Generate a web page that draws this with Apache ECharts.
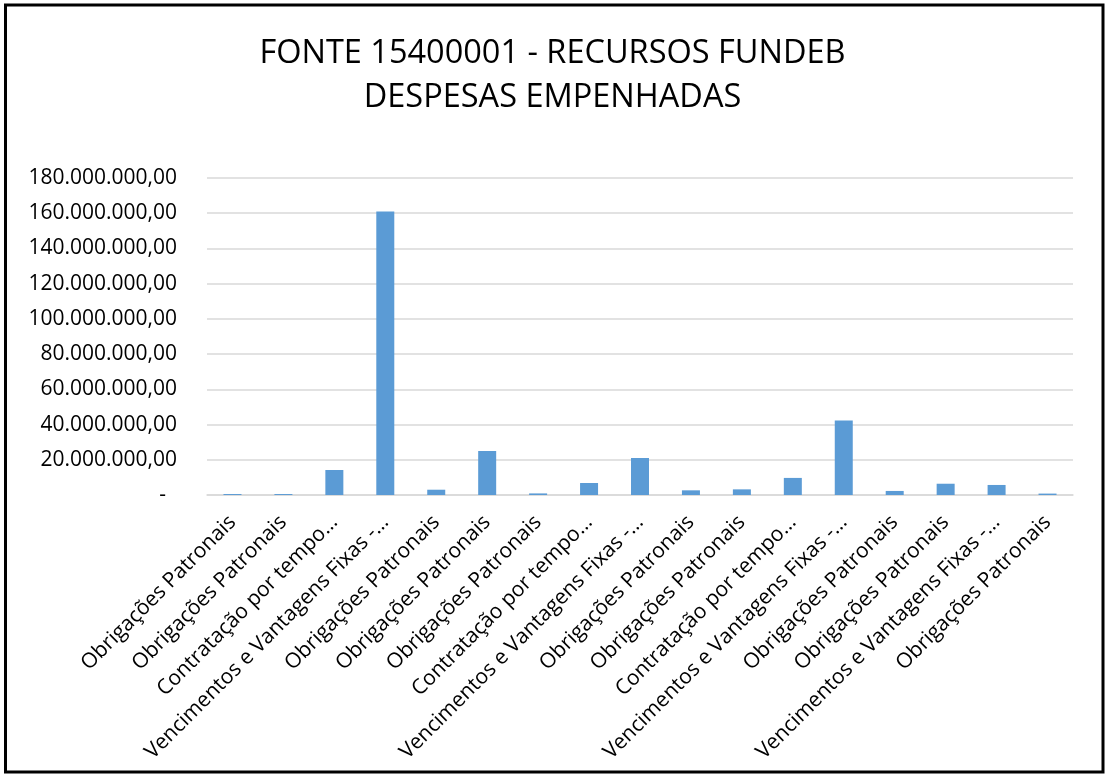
<!DOCTYPE html>
<html>
<head>
<meta charset="utf-8">
<script src="https://cdn.jsdelivr.net/npm/echarts@6/dist/echarts.min.js"></script>
<style>
  html, body { margin: 0; padding: 0; background: #fff; }
  #chart { width: 1105px; height: 775px; }
</style>
</head>
<body>
<div id="chart"></div>
<script>
// Despesas empenhadas por elemento (R$)
const categories = [
  'Obrigações Patronais',
  'Obrigações Patronais',
  'Contratação por tempo…',
  'Vencimentos e Vantagens Fixas -…',
  'Obrigações Patronais',
  'Obrigações Patronais',
  'Obrigações Patronais',
  'Contratação por tempo…',
  'Vencimentos e Vantagens Fixas -…',
  'Obrigações Patronais',
  'Obrigações Patronais',
  'Contratação por tempo…',
  'Vencimentos e Vantagens Fixas -…',
  'Obrigações Patronais',
  'Obrigações Patronais',
  'Vencimentos e Vantagens Fixas -…',
  'Obrigações Patronais'
];

const values = [
  550000, 550000, 14200000, 161000000, 3000000, 25000000,
  900000, 6800000, 21000000, 2650000, 3200000, 9700000,
  42300000, 2300000, 6400000, 5700000, 800000
];

const titleLines = ['FONTE 15400001 - RECURSOS FUNDEB', 'DESPESAS EMPENHADAS'];

// Formato contábil brasileiro: 160.000.000,00 ; zero como "-"
function formatBR(v) {
  if (v === 0) return '-  ';
  const parts = v.toFixed(2).split('.');
  const intPart = parts[0].replace(/\B(?=(\d{3})+(?!\d))/g, '.');
  return intPart + ',' + parts[1];
}

const FONT = '"Open Sans", "Liberation Sans", sans-serif';

const chart = echarts.init(document.getElementById('chart'), null, { renderer: 'canvas' });

chart.setOption({
  backgroundColor: '#ffffff',
  animation: false,
  title: {
    text: titleLines.join('\n'),
    left: 'center',
    top: 27,
    textStyle: {
      fontFamily: FONT,
      fontSize: 32.5,
      fontWeight: 'normal',
      color: '#000000',
      lineHeight: 44
    }
  },
  graphic: [{
    type: 'rect',
    shape: { x: 5.5, y: 5, width: 1097.5, height: 767 },
    style: { fill: 'none', stroke: '#000000', lineWidth: 3 },
    silent: true,
    z: 100
  }],
  grid: {
    left: 207,
    right: 32,
    top: 178,
    bottom: 280,
    containLabel: false,
    outerBoundsMode: 'none'
  },
  xAxis: {
    type: 'category',
    data: categories,
    axisLine: { show: true, lineStyle: { color: '#d9d9d9', width: 1.5 } },
    axisTick: { show: false },
    axisLabel: {
      interval: 0,
      rotate: 45,
      margin: 24,
      fontFamily: FONT,
      fontSize: 21,
      color: '#000000'
    }
  },
  yAxis: {
    type: 'value',
    min: 0,
    max: 180000000,
    interval: 20000000,
    axisLine: { show: false },
    axisTick: { show: false },
    splitLine: { lineStyle: { color: '#d9d9d9', width: 1.5 } },
    axisLabel: {
      margin: 30,
      fontFamily: FONT,
      fontSize: 21,
      color: '#000000',
      formatter: formatBR
    }
  },
  series: [{
    type: 'bar',
    data: values,
    barWidth: 18,
    itemStyle: { color: '#5b9bd5' }
  }]
});
</script>
</body>
</html>
